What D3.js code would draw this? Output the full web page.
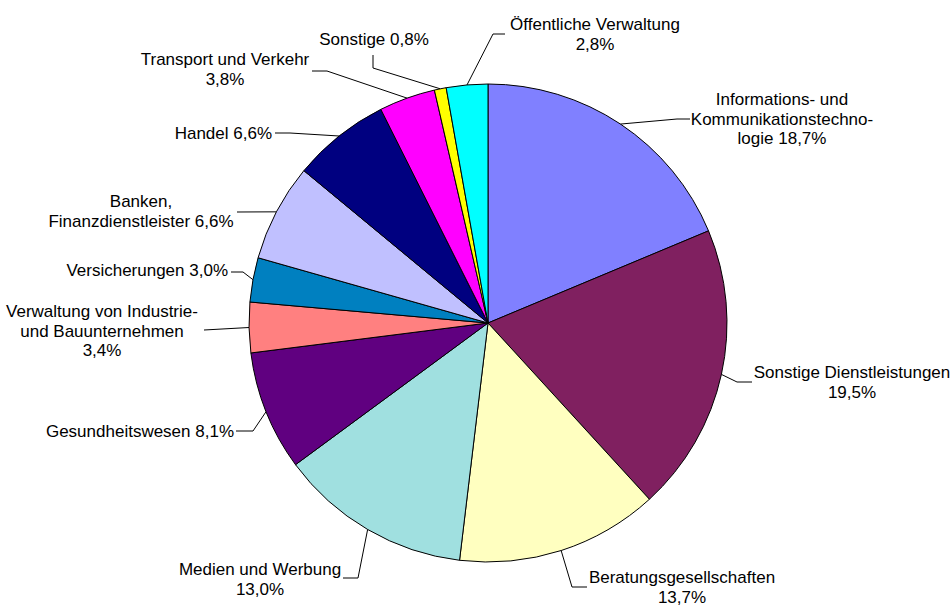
<!DOCTYPE html>
<html>
<head>
<meta charset="utf-8">
<script src="https://cdn.jsdelivr.net/npm/d3@7"></script>
<style>
  body { margin: 0; background: #fff; }
  svg text { font-family: "Liberation Sans", Arial, sans-serif; font-size: 17px; fill: #000; }
</style>
</head>
<body>
<div id="chart"></div>
<script>
// chart data, clockwise from 12 o'clock
const categories = [
    "Informations- und Kommunikationstechnologie",
    "Sonstige Dienstleistungen",
    "Beratungsgesellschaften",
    "Medien und Werbung",
    "Gesundheitswesen",
    "Verwaltung von Industrie- und Bauunternehmen",
    "Versicherungen",
    "Banken, Finanzdienstleister",
    "Handel",
    "Transport und Verkehr",
    "Sonstige",
    "Öffentliche Verwaltung"
];
const shares = [18.7, 19.5, 13.7, 13.0, 8.1, 3.4, 3.0, 6.6, 6.6, 3.8, 0.8, 2.8];
const colors = ["#8080FF", "#802060", "#FFFFC0", "#A0E0E0", "#600080", "#FF8080",
                "#0080C0", "#C0C0FF", "#000080", "#FF00FF", "#FFFF00", "#00FFFF"];

// label placement (text lines, anchor, leader bend points)
const labelLayout = [
    {lines: ["Informations- und", "Kommunikationstechno-", "logie {v}"], x: 782, y: 105, anchor: "middle", leader: [[677, 119], [690, 119]]},
    {lines: ["Sonstige Dienstleistungen", "{v}"], x: 852, y: 378, anchor: "middle", leader: [[737, 382], [752, 382]]},
    {lines: ["Beratungsgesellschaften", "{v}"], x: 682, y: 583, anchor: "middle", leader: [[572, 587], [587, 587]]},
    {lines: ["Medien und Werbung", "{v}"], x: 260, y: 575, anchor: "middle", leader: [[358, 578], [343, 578]]},
    {lines: ["Gesundheitswesen {v}"], x: 234, y: 437, anchor: "end", leader: [[253, 431], [236, 431]]},
    {lines: ["Verwaltung von Industrie-", "und Bauunternehmen", "{v}"], x: 102, y: 317, anchor: "middle", leader: [[204, 330]]},
    {lines: ["Versicherungen {v}"], x: 228, y: 276, anchor: "end", leader: [[243, 272], [231, 272]]},
    {lines: ["Banken,", "Finanzdienstleister {v}"], x: 141, y: 207, anchor: "middle", leader: [[237, 212]]},
    {lines: ["Handel {v}"], x: 272, y: 139, anchor: "end", leader: [[290, 133], [275, 133]]},
    {lines: ["Transport und Verkehr", "{v}"], x: 225, y: 65, anchor: "middle", leader: [[327, 71], [312, 71]]},
    {lines: ["Sonstige {v}"], x: 374, y: 45, anchor: "middle", leader: [[373, 68], [373, 55]]},
    {lines: ["Öffentliche Verwaltung", "{v}"], x: 595, y: 30, anchor: "middle", leader: [[493, 34], [505, 34]]}
];

const width = 950, height = 606;
const cx = 488, cy = 323, radius = 239;
const lineHeight = 19.5;

const fmt = v => d3.format(".1f")(v).replace(".", ",") + "%";

const data = categories.map((c, i) => ({category: c, value: shares[i], color: colors[i]}));

const svg = d3.select("#chart").append("svg")
    .attr("width", width)
    .attr("height", height);

const pie = d3.pie()
    .sort(null)
    .value(d => d.value);

const arc = d3.arc()
    .innerRadius(0)
    .outerRadius(radius);

const arcs = pie(data);

const g = svg.append("g")
    .attr("transform", "translate(" + cx + "," + cy + ")");

g.selectAll("path.slice")
    .data(arcs)
    .enter().append("path")
    .attr("class", "slice")
    .attr("d", arc)
    .attr("fill", d => d.data.color)
    .attr("stroke", "#000")
    .attr("stroke-width", 1)
    .attr("stroke-linejoin", "round");

// leader lines from slice edge to label
const line = d3.line();
arcs.forEach((a, i) => {
    const mid = (a.startAngle + a.endAngle) / 2;
    const start = [cx + radius * Math.sin(mid), cy - radius * Math.cos(mid)];
    const pts = [start].concat(labelLayout[i].leader);
    svg.append("path")
        .attr("d", line(pts))
        .attr("fill", "none")
        .attr("stroke", "#000")
        .attr("stroke-width", 1);
});

// labels
labelLayout.forEach((lab, i) => {
    const t = svg.append("text")
        .attr("text-anchor", lab.anchor);
    lab.lines.forEach((ln, k) => {
        t.append("tspan")
            .attr("x", lab.x)
            .attr("y", lab.y + k * lineHeight)
            .text(ln.replace("{v}", fmt(shares[i])));
    });
});
</script>
</body>
</html>
